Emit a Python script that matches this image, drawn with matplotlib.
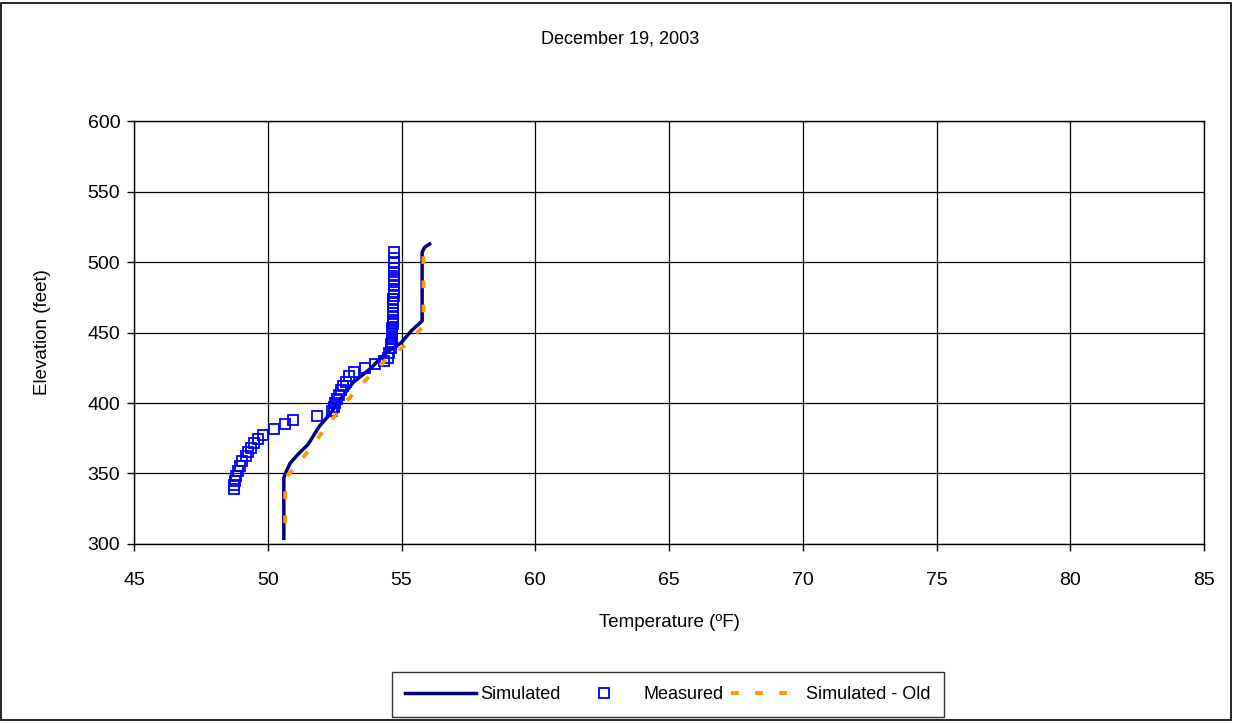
import matplotlib
matplotlib.use("Agg")
import matplotlib.pyplot as plt
from matplotlib.patches import Rectangle

plt.rcParams['font.family'] = ['Liberation Sans', 'DejaVu Sans']

# Simulated profile
sim_temp = [50.60, 50.60, 50.69, 50.84, 51.15, 51.50, 51.93, 52.31, 52.75, 53.18,
            53.80, 54.43, 54.99, 55.36, 55.77, 55.77, 55.86, 56.05]
sim_elev = [304, 346.8, 351.5, 357.4, 364.0, 370.5, 383.5, 391.8, 403.5, 414.4,
            423.8, 435.7, 442.8, 451.1, 458.2, 506.9, 510.4, 512.8]

# Simulated - old profile
old_temp = [50.65, 50.65, 50.88, 51.56, 52.25, 53.00, 53.68, 54.43, 55.18, 55.82,
            55.82, 56.00]
old_elev = [314.7, 347.0, 351.5, 366.9, 384.7, 402.5, 416.7, 431.0, 441.6, 454.7,
            507.0, 512.0]

# Measured profile
meas_temp = [48.72, 48.72, 48.76, 48.82, 48.88, 48.97, 49.04, 49.17, 49.25, 49.38,
             49.50, 49.63, 49.81, 50.23, 50.66, 50.94, 51.85, 52.41, 52.47, 52.53,
             52.60, 52.66, 52.72, 52.81, 52.91, 53.03, 53.22, 53.62, 53.99, 54.34,
             54.49, 54.55, 54.59, 54.62, 54.63, 54.64, 54.65, 54.65, 54.66, 54.66,
             54.67, 54.67, 54.68, 54.68, 54.68, 54.69, 54.69, 54.69, 54.70, 54.70,
             54.70, 54.70, 54.70, 54.70, 54.70, 54.70, 54.70, 54.70, 54.70]
meas_elev = [338.9, 342.0, 345.0, 348.4, 351.5, 355.0, 358.6, 362.1, 365.0, 368.1,
             371.7, 374.5, 377.6, 381.8, 385.2, 387.8, 391.1, 394.2, 397.0, 400.1,
             403.0, 406.0, 409.1, 412.0, 414.8, 419.1, 421.9, 425.0, 427.4, 429.8,
             432.2, 435.7, 439.3, 441.5, 443.5, 445.5, 447.5, 449.5, 451.5, 453.5,
             456.0, 458.5, 461.0, 463.5, 466.0, 468.5, 471.0, 473.5, 476.0, 478.5,
             481.0, 484.0, 487.0, 490.0, 493.0, 496.0, 499.0, 502.5, 507.0]

x_ticks = [45, 50, 55, 60, 65, 70, 75, 80, 85]
y_ticks = [300, 350, 400, 450, 500, 550, 600]

fig = plt.figure(figsize=(12.33, 7.23), dpi=100)
ax = fig.add_axes([0.1087, 0.2476, 0.8678, 0.585])

ax.plot(sim_temp, sim_elev, color='#000080', lw=2.5, label='Simulated', zorder=3)
ax.plot(meas_temp, meas_elev, ls='none', marker='s', ms=7.5, mfc='none',
        mec='#0000FF', mew=1.3, label='Measured', zorder=4)
ax.plot(old_temp, old_elev, color='#FF9900', lw=2.8, dashes=(2.0, 4.2),
        label='Simulated - Old', zorder=5)

ax.set_xlim(45, 85)
ax.set_ylim(300, 600)
ax.set_xticks(x_ticks)
ax.set_yticks(y_ticks)
ax.grid(True, color='black', lw=0.9)
ax.set_axisbelow(True)
for s in ax.spines.values():
    s.set_color('black')
    s.set_linewidth(1.0)
ax.tick_params(direction='out', length=5, width=1, labelsize=14)
ax.tick_params(axis='x', pad=15)
ax.tick_params(axis='y', pad=5)

ax.set_xlabel('Temperature (ºF)', fontsize=13.5)
ax.set_ylabel('Elevation (feet)', fontsize=13.5)
ax.xaxis.set_label_coords(0.5, -0.186)
ax.yaxis.set_label_coords(-0.086, 0.5)
ax.xaxis.label.set_va('center')
ax.yaxis.label.set_va('center')
fig.text(0.503, 1 - 39 / 723, 'December 19, 2003', ha='center', va='center', fontsize=13)

leg = fig.legend(loc='center', bbox_to_anchor=(0.5418, 0.0394), ncol=3,
                 frameon=True, fancybox=False, edgecolor='black', fontsize=13,
                 handlelength=3.93, columnspacing=0.44, borderpad=0.75,
                 handletextpad=0.22, borderaxespad=0)
leg.get_frame().set_linewidth(1.0)

fig.patches.append(Rectangle((0.001, 0.004), 0.997, 0.992, transform=fig.transFigure,
                             fill=False, edgecolor='black', lw=1.2))

fig.savefig('out.png', dpi=100)
